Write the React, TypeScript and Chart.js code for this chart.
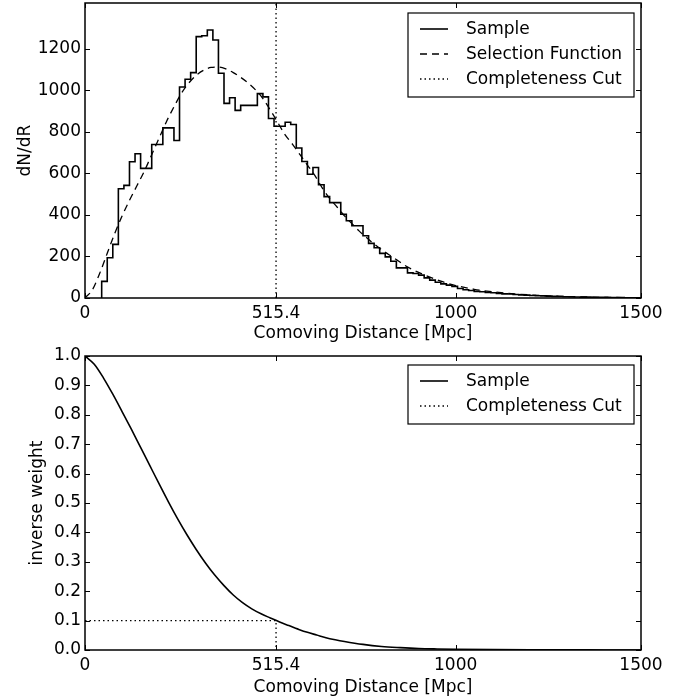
import React, { useEffect, useRef } from 'react';
import { Chart, registerables } from 'chart.js';

Chart.register(...registerables);

// ---------- data ----------
const X_TICKS = [0, 515.4, 1000, 1500];
const COUNT_TICKS = [0, 200, 400, 600, 800, 1000, 1200];
const WEIGHT_TICKS = [0, 0.1, 0.2, 0.3, 0.4, 0.5, 0.6, 0.7, 0.8, 0.9, 1.0];
const COMPLETENESS_CUT = 515.4;
const WEIGHT_AT_CUT = 0.1;
const COUNT_MAX = 1420;

// histogram of the sample: first bin edge, bin width, counts per bin
const HIST_START = 45;
const BIN_WIDTH = 15;
const sampleCounts = [
  80, 194, 258, 526, 542, 656, 694, 624, 624, 739,
  739, 819, 819, 758, 1016, 1053, 1085, 1258, 1262, 1290,
  1242, 1082, 937, 964, 903, 927, 927, 927, 984, 968,
  864, 827, 827, 846, 835, 722, 657, 596, 628, 545,
  488, 459, 459, 403, 372, 348, 348, 300, 263, 242,
  215, 198, 177, 145, 145, 121, 118, 110, 97, 86,
  76, 68, 62, 56, 46, 40, 36, 32, 30, 27,
  25, 22, 20, 19, 17, 15, 14, 12, 11, 10,
  9, 8, 7, 6, 6, 5, 4, 4, 3, 3,
  3, 2, 2, 2, 1, 1, 1,
];

// selection function (dashed)
const selectionX = [
  0, 20, 40, 60, 80, 100, 120, 140, 160, 180, 200, 220, 240, 260, 280, 300, 320, 340, 360, 380,
  400, 420, 440, 460, 480, 500, 520, 540, 560, 580, 600, 620, 640, 660, 680, 700, 720, 740, 760, 780,
  800, 820, 840, 860, 880, 900, 920, 940, 960, 980, 1000, 1050, 1100, 1150, 1200, 1250, 1300, 1350, 1400, 1450, 1500,
];
const selectionY = [
  0, 40, 120, 215, 310, 395, 470, 540, 610, 690, 770, 850, 920, 985, 1035, 1072, 1096, 1110, 1112, 1103,
  1085, 1062, 1035, 1002, 960, 905, 845, 785, 740, 690, 640, 590, 530, 480, 438, 395, 358, 322, 290, 260,
  233, 208, 185, 160, 140, 123, 108, 94, 81, 70, 60, 42, 30, 21, 15, 10, 7, 5, 3, 2, 1,
];

// inverse weight curve
const weightX = [
  0, 25, 50, 75, 100, 125, 150, 175, 200, 225, 250, 275, 300, 325, 350, 375, 400, 425, 450, 475,
  500, 525, 550, 575, 600, 625, 650, 675, 700, 750, 800, 850, 900, 950, 1000, 1100, 1200, 1300, 1400, 1500,
];
const weightY = [
  1.0, 0.972, 0.925, 0.87, 0.811, 0.751, 0.689, 0.627, 0.565, 0.504, 0.446, 0.392, 0.342, 0.296, 0.255, 0.219, 0.187, 0.161, 0.14, 0.123,
  0.109, 0.095, 0.083, 0.071, 0.06, 0.051, 0.042, 0.035, 0.029, 0.019, 0.012, 0.008, 0.005, 0.0035, 0.0025, 0.0013, 0.0007, 0.0004, 0.0002, 0.0001,
];

// ---------- helpers ----------
const FONT = 'DejaVu Sans';
Chart.defaults.font.family = FONT;
Chart.defaults.font.size = 17;
Chart.defaults.color = '#000';

function histogramPoints() {
  const pts: { x: number; y: number }[] = [{ x: HIST_START, y: 0 }];
  sampleCounts.forEach((c, i) => pts.push({ x: HIST_START + i * BIN_WIDTH, y: c }));
  const last = sampleCounts[sampleCounts.length - 1];
  pts.push({ x: HIST_START + sampleCounts.length * BIN_WIDTH, y: last });
  return pts;
}

const zip = (xs: number[], ys: number[]) => xs.map((x, i) => ({ x, y: ys[i] }));

const framePlugin = {
  id: 'frameLegend',
  afterDatasetsDraw(chart: any, _args: any, opts: any) {
    const { ctx, chartArea } = chart;
    const { left, right, top, bottom } = chartArea;
    const line = (x1: number, y1: number, x2: number, y2: number) => {
      ctx.beginPath();
      ctx.moveTo(x1, y1);
      ctx.lineTo(x2, y2);
      ctx.stroke();
    };
    ctx.save();
    ctx.setLineDash([]);
    ctx.strokeStyle = '#000';
    // inward ticks
    ctx.lineWidth = 1;
    const L = 5;
    const xs = chart.scales.x;
    const ys = chart.scales.y;
    xs.ticks.forEach((t: any) => {
      const p = Math.round(xs.getPixelForValue(t.value)) + 0.5;
      line(p, bottom, p, bottom - L);
      line(p, top, p, top + L);
    });
    ys.ticks.forEach((t: any) => {
      const p = Math.round(ys.getPixelForValue(t.value)) + 0.5;
      line(left, p, left + L, p);
      line(right, p, right - L, p);
    });
    // frame
    ctx.lineWidth = 1.5;
    ctx.strokeRect(left, top, right - left, bottom - top);

    // legend
    const items = chart.data.datasets.filter((d: any) => d.label);
    const rowH = 25;
    const boxW = 226;
    const boxH = items.length * rowH + 9;
    const bx = right - 7 - boxW;
    const by = top + opts.legendTop;
    ctx.fillStyle = '#fff';
    ctx.fillRect(bx, by, boxW, boxH);
    ctx.lineWidth = 1.2;
    ctx.strokeRect(bx, by, boxW, boxH);
    ctx.font = `17px "${FONT}"`;
    ctx.textBaseline = 'middle';
    ctx.textAlign = 'left';
    items.forEach((d: any, i: number) => {
      const cy = by + 16 + i * rowH;
      ctx.strokeStyle = d.borderColor;
      ctx.lineWidth = d.borderWidth;
      ctx.setLineDash(d.borderDash || []);
      line(bx + 12, cy, bx + 40, cy);
      ctx.setLineDash([]);
      ctx.fillStyle = '#000';
      ctx.fillText(d.label, bx + 58, cy + 1);
    });
    ctx.restore();
  },
};

function xScale(tickPad: number, titleBottom: number, height: number) {
  return {
    type: 'linear',
    min: 0,
    max: 1500,
    afterBuildTicks: (s: any) => {
      s.ticks = X_TICKS.map((v) => ({ value: v }));
    },
    afterFit: (s: any) => {
      s.height = height;
      s.paddingLeft = 0;
      s.paddingRight = 0;
    },
    grid: { display: false, drawTicks: false },
    border: { display: false },
    ticks: {
      autoSkip: false,
      maxRotation: 0,
      padding: tickPad,
      callback: (v: any) => String(v),
      color: '#000',
    },
    title: {
      display: true,
      text: 'Comoving Distance [Mpc]',
      color: '#000',
      padding: { top: 0, bottom: titleBottom },
    },
  };
}

function yScale(max: number, ticks: number[], label: string, titlePad: number, fmt: (v: number) => string) {
  return {
    type: 'linear',
    min: 0,
    max,
    afterBuildTicks: (s: any) => {
      s.ticks = ticks.map((v) => ({ value: v }));
    },
    afterFit: (s: any) => {
      s.width = 85;
      s.paddingTop = 0;
      s.paddingBottom = 0;
    },
    grid: { display: false, drawTicks: false },
    border: { display: false },
    ticks: { padding: 4, callback: (v: any) => fmt(Number(v)), color: '#000' },
    title: { display: true, text: label, color: '#000', padding: { top: titlePad, bottom: 0 } },
  };
}

function topConfig(): any {
  return {
    type: 'line',
    data: {
      datasets: [
        {
          label: 'Sample',
          data: histogramPoints(),
          stepped: 'before',
          borderColor: '#000',
          borderWidth: 1.6,
          pointRadius: 0,
          fill: false,
        },
        {
          label: 'Selection Function',
          data: zip(selectionX, selectionY),
          borderColor: '#000',
          borderWidth: 1.3,
          borderDash: [7, 5],
          pointRadius: 0,
          cubicInterpolationMode: 'monotone',
          fill: false,
        },
        {
          label: 'Completeness Cut',
          data: [
            { x: COMPLETENESS_CUT, y: 0 },
            { x: COMPLETENESS_CUT, y: COUNT_MAX },
          ],
          borderColor: '#000',
          borderWidth: 1.3,
          borderDash: [1.5, 3],
          pointRadius: 0,
          fill: false,
        },
      ],
    },
    options: {
      animation: false,
      responsive: false,
      parsing: false,
      layout: { padding: { left: 0, top: 3, right: 49, bottom: 0 } },
      plugins: { legend: { display: false }, tooltip: { enabled: false }, frameLegend: { legendTop: 10 } },
      scales: {
        x: xScale(5, 1, 47),
        y: yScale(COUNT_MAX, COUNT_TICKS, 'dN/dR', 15, (v) => String(v)),
      },
    },
    plugins: [framePlugin],
  };
}

function bottomConfig(): any {
  return {
    type: 'line',
    data: {
      datasets: [
        {
          label: 'Sample',
          data: zip(weightX, weightY),
          borderColor: '#000',
          borderWidth: 1.6,
          pointRadius: 0,
          cubicInterpolationMode: 'monotone',
          fill: false,
        },
        {
          label: 'Completeness Cut',
          data: [
            { x: 0, y: WEIGHT_AT_CUT },
            { x: COMPLETENESS_CUT, y: WEIGHT_AT_CUT },
            { x: COMPLETENESS_CUT, y: 0 },
          ],
          borderColor: '#000',
          borderWidth: 1.3,
          borderDash: [1.5, 3],
          pointRadius: 0,
          fill: false,
        },
      ],
    },
    options: {
      animation: false,
      responsive: false,
      parsing: false,
      layout: { padding: { left: 0, top: 11, right: 49, bottom: 0 } },
      plugins: { legend: { display: false }, tooltip: { enabled: false }, frameLegend: { legendTop: 9 } },
      scales: {
        x: xScale(5, 0, 48),
        y: yScale(1, WEIGHT_TICKS, 'inverse weight', 27, (v) => v.toFixed(1)),
      },
    },
    plugins: [framePlugin],
  };
}

export default function App() {
  const topRef = useRef<HTMLCanvasElement>(null);
  const botRef = useRef<HTMLCanvasElement>(null);
  useEffect(() => {
    const c1 = new Chart(topRef.current as HTMLCanvasElement, topConfig());
    const c2 = new Chart(botRef.current as HTMLCanvasElement, bottomConfig());
    return () => {
      c1.destroy();
      c2.destroy();
    };
  }, []);
  return (
    <div style={{ position: 'absolute', left: 0, top: 0, width: 690, height: 698, background: '#fff' }}>
      <canvas
        ref={topRef}
        width={690}
        height={345}
        style={{ position: 'absolute', left: 0, top: 0, width: 690, height: 345 }}
      />
      <canvas
        ref={botRef}
        width={690}
        height={353}
        style={{ position: 'absolute', left: 0, top: 345, width: 690, height: 353 }}
      />
    </div>
  );
}
